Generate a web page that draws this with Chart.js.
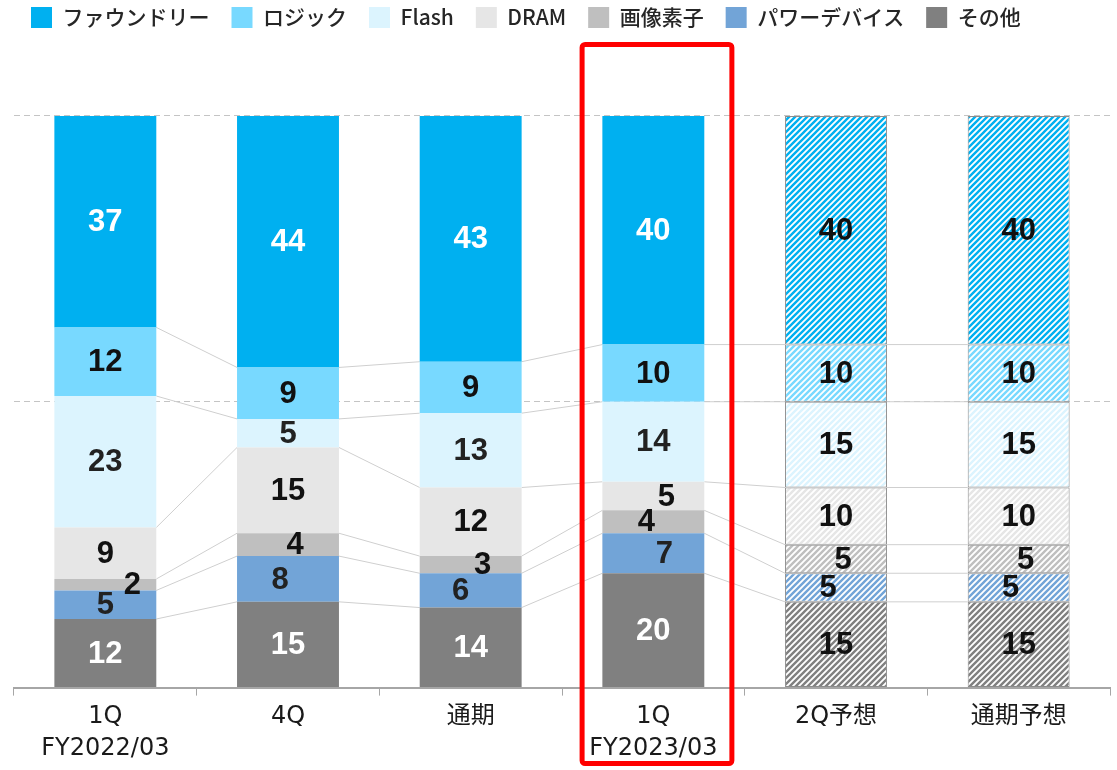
<!DOCTYPE html>
<html>
<head>
<meta charset="utf-8">
<script src="https://cdn.jsdelivr.net/npm/chart.js@4/dist/chart.umd.min.js"></script>
<style>
    body { margin: 0; background: #fff; }
    #wrap { width: 1117px; height: 770px; position: relative; }
</style>
</head>
<body>
<div id="wrap"><canvas id="mixChart"></canvas></div>
<script>
// categories and series (percent)
const categories = [['1Q', 'FY2022/03'], '4Q', '通期', ['1Q', 'FY2023/03'], '2Q予想', '通期予想'];
const foundry = [37, 44, 43, 40, 40, 40];
const logic = [12, 9, 9, 10, 10, 10];
const flash = [23, 5, 13, 14, 15, 15];
const dram = [9, 15, 12, 5, 10, 10];
const imageSensor = [2, 4, 3, 4, 5, 5];
const power = [5, 8, 6, 7, 5, 5];
const other = [12, 15, 14, 20, 15, 15];
const gridTicks = [50, 100];
const forecastFrom = 4;     // bars from this index are forecasts (hatched)
const highlightIndex = 3;   // bar with the red frame

// label nudges for the thin segments [dx per category]
const labelShift = {
    'パワーデバイス': [0, -8, -10, 11, -8, -8],
    '画像素子': [27, 7, 12, -7, 7, 7],
    'DRAM': [0, 0, 0, 13, 0, 0]
};

function hatch(color) {
    const s = 6;
    const c = document.createElement('canvas');
    c.width = s; c.height = s;
    const g = c.getContext('2d');
    g.fillStyle = '#ffffff';
    g.fillRect(0, 0, s, s);
    g.strokeStyle = color;
    g.lineWidth = 2.4;
    g.beginPath();
    g.moveTo(0, s); g.lineTo(s, 0);
    g.moveTo(-1, 1); g.lineTo(1, -1);
    g.moveTo(s - 1, s + 1); g.lineTo(s + 1, s - 1);
    g.stroke();
    return g.createPattern(c, 'repeat');
}

function series(label, data, color, labelColor) {
    const pattern = hatch(color);
    return {
        label: label,
        data: data,
        labelColor: labelColor,
        backgroundColor: function(ctx) {
            return ctx.dataIndex >= forecastFrom ? pattern : color;
        },
        borderColor: '#8c8c8c',
        borderWidth: function(ctx) {
            return ctx.dataIndex >= forecastFrom ? 1 : 0;
        },
        borderSkipped: false
    };
}

// stacked from the bottom up
const datasets = [
    series('その他', other, '#808080', '#ffffff'),
    series('パワーデバイス', power, '#72a4d7', '#222222'),
    series('画像素子', imageSensor, '#bfbfbf', '#111111'),
    series('DRAM', dram, '#e6e6e6', '#111111'),
    series('Flash', flash, '#dcf4fe', '#222222'),
    series('ロジック', logic, '#78d9ff', '#111111'),
    series('ファウンドリー', foundry, '#00b0f0', '#ffffff')
];

const JP_FONT = '"Noto Sans CJK JP", "Noto Sans", sans-serif';
const TICK_FONT = '"DejaVu Sans", "Noto Sans CJK JP", sans-serif';
const VALUE_FONT = 'bold 31px "Liberation Sans", Arial, sans-serif';

// thin lines linking segment boundaries of neighbouring bars
const connectors = {
    id: 'connectors',
    beforeDatasetsDraw: function(chart) {
        const ctx = chart.ctx;
        ctx.save();
        ctx.strokeStyle = '#cfcfcf';
        ctx.lineWidth = 1;
        for (let d = 0; d < chart.data.datasets.length - 1; d++) {
            const bars = chart.getDatasetMeta(d).data;
            for (let i = 0; i < bars.length - 1; i++) {
                const a = bars[i], b = bars[i + 1];
                ctx.beginPath();
                ctx.moveTo(a.x + a.width / 2, a.y);
                ctx.lineTo(b.x - b.width / 2, b.y);
                ctx.stroke();
            }
        }
        ctx.restore();
    }
};

// value labels inside each segment
const valueLabels = {
    id: 'valueLabels',
    afterDatasetsDraw: function(chart) {
        const ctx = chart.ctx;
        ctx.save();
        ctx.font = VALUE_FONT;
        ctx.textAlign = 'center';
        ctx.textBaseline = 'middle';
        chart.data.datasets.forEach(function(ds, d) {
            chart.getDatasetMeta(d).data.forEach(function(bar, i) {
                const p = bar.getCenterPoint();
                const dx = labelShift[ds.label] ? labelShift[ds.label][i] : 0;
                ctx.fillStyle = i >= forecastFrom ? '#111111' : ds.labelColor;
                ctx.fillText(ds.data[i], p.x + dx, p.y + 1);
            });
        });
        ctx.restore();
    }
};

// red frame round the latest quarter
const highlight = {
    id: 'highlight',
    afterDraw: function(chart) {
        const x = chart.scales.x;
        const step = x.getPixelForValue(1) - x.getPixelForValue(0);
        const cx = x.getPixelForValue(highlightIndex);
        const ctx = chart.ctx;
        ctx.save();
        ctx.strokeStyle = '#ff0000';
        ctx.lineWidth = 5;
        ctx.lineJoin = 'round';
        ctx.beginPath();
        ctx.roundRect(cx - step * 0.39, 44.5, step * 0.82, chart.height - 51, 3);
        ctx.stroke();
        ctx.restore();
    }
};

// nudge the legend row up and left (labels.padding is used for item spacing)
const legendLift = {
    id: 'legendLift',
    afterLayout: function(chart) {
        chart.legend.top -= 15;
        chart.legend.bottom -= 15;
        chart.legend.left -= 5;
    }
};

new Chart(document.getElementById('mixChart'), {
    type: 'bar',
    data: { labels: categories, datasets: datasets },
    plugins: [connectors, valueLabels, highlight, legendLift],
    options: {
        responsive: true,
        maintainAspectRatio: false,
        animation: false,
        layout: { padding: { left: 14, right: 7, top: 0, bottom: 0 } },
        datasets: { bar: { categoryPercentage: 1, barPercentage: 0.558 } },
        plugins: {
            tooltip: { enabled: false },
            legend: {
                position: 'top',
                align: 'start',
                reverse: true,
                labels: {
                    boxWidth: 21,
                    boxHeight: 21,
                    padding: 22,
                    color: '#262626',
                    font: { family: JP_FONT, size: 21, weight: 500 }
                }
            }
        },
        scales: {
            x: {
                stacked: true,
                border: { display: true, color: '#a6a6a6', width: 2 },
                grid: { drawOnChartArea: false, drawTicks: true, tickLength: 8, color: '#a6a6a6', offset: true },
                ticks: {
                    color: '#1a1a1a',
                    padding: 6,
                    maxRotation: 0,
                    font: { family: TICK_FONT, size: 24, lineHeight: 1.3 }
                }
            },
            y: {
                stacked: true,
                min: 0,
                max: 111,
                border: { display: false, dash: [6, 4] },
                grid: {
                    drawTicks: false,
                    color: function(ctx) {
                        return gridTicks.includes(ctx.tick.value) ? '#c4c4c4' : 'rgba(0,0,0,0)';
                    }
                },
                ticks: { display: false, stepSize: 50 }
            }
        }
    }
});
</script>
</body>
</html>
